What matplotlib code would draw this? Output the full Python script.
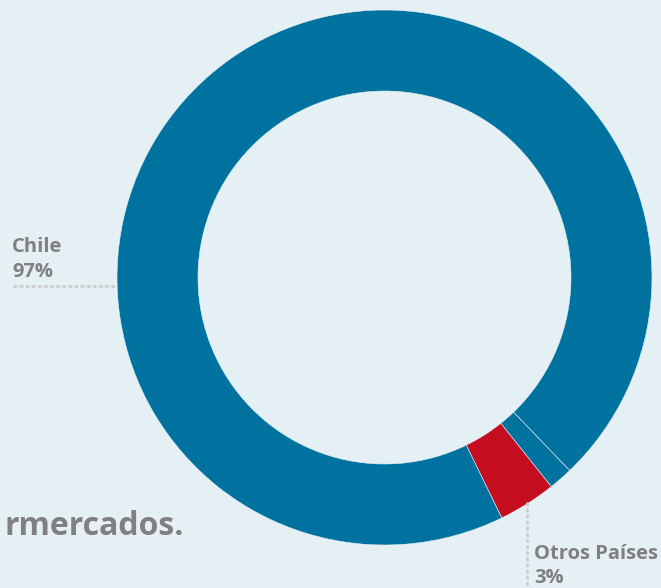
import matplotlib.pyplot as plt

# slices, counter-clockwise starting near the bottom right
slices = ["Otros Países", "Otros", "Chile"]
shares = [3.5, 1.45, 95.05]
slice_colors = ["#c40d1e", "#00729f", "#00729f"]

label_names = ["Chile", "Otros Países"]
label_values = ["97%", "3%"]

bg = "#e5f0f5"
gray = "#808080"
dots = "#cccccc"

W, H = 661, 588
fig = plt.figure(figsize=(W / 100, H / 100), dpi=100, facecolor=bg)
ax = fig.add_axes([0, 0, 1, 1])
ax.set_facecolor(bg)

R = 267.5
cx, cy = 384.5, H - 277.5
ax.pie(shares, colors=slice_colors, startangle=296, counterclock=True,
       radius=R, center=(cx, cy), frame=True,
       wedgeprops=dict(width=R - 186.5, edgecolor=bg, linewidth=0.4))
ax.set_xlim(0, W)
ax.set_ylim(0, H)
ax.set_aspect("equal")
ax.axis("off")

font = ["Open Sans", "DejaVu Sans"]
fs = 14.5

# Chile label
ax.plot([14, 117], [H - 286, H - 286], color=dots, lw=2, ls=(0, (0.6, 1.6)),
        dash_capstyle="round")
ax.text(12, H - 252, label_names[0], color=gray, fontsize=fs,
        fontweight="bold", family=font, va="baseline", ha="left")
ax.text(12, H - 277, label_values[0], color=gray, fontsize=fs,
        fontweight="bold", family=font, va="baseline", ha="left")

# Otros Paises label
ax.plot([527, 527], [H - 503, 0], color=dots, lw=2, ls=(0, (0.6, 1.6)),
        dash_capstyle="round")
ax.text(534, H - 559, label_names[1], color=gray, fontsize=fs,
        fontweight="bold", family=font, va="baseline", ha="left")
ax.text(534, H - 583, label_values[1], color=gray, fontsize=fs,
        fontweight="bold", family=font, va="baseline", ha="left")

# cut-off caption
ax.text(184, H - 535, "rmercados.", color=gray, fontsize=23,
        fontweight="bold", family=font, va="baseline", ha="right")

fig.savefig("out.png", dpi=100, facecolor=bg)
